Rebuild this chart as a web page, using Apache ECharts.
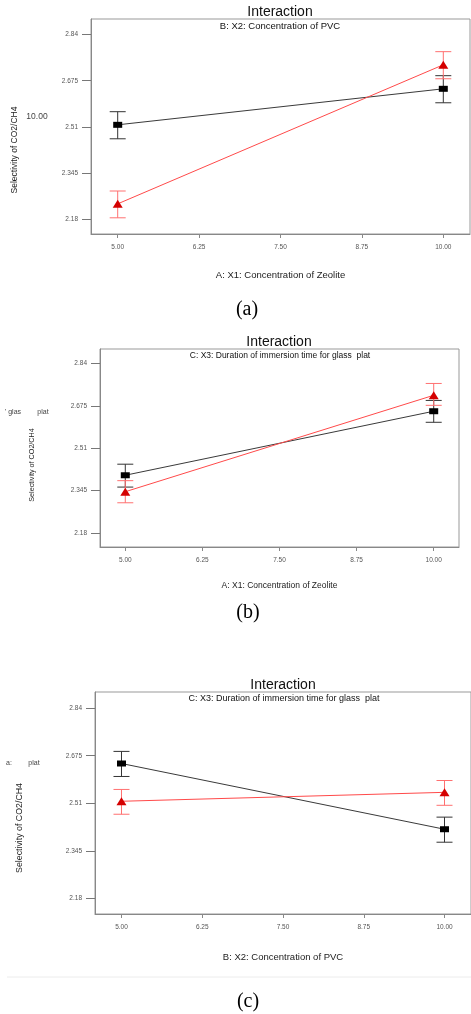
<!DOCTYPE html>
<html>
<head>
<meta charset="utf-8">
<script src="https://cdn.jsdelivr.net/npm/echarts@6/dist/echarts.min.js"></script>
<style>
  html, body { margin: 0; padding: 0; background: #fff; }
  #chart { width: 471px; height: 1014px; }
</style>
</head>
<body>
<div id="chart"></div>
<script>
// factor levels and axis ticks
var xLevels = [5, 10];
var xTicks = [5, 6.25, 7.5, 8.75, 10];
var yTicks = [2.18, 2.345, 2.51, 2.675, 2.84];

// (a) A x B
var aBlackMean = [2.517, 2.646];
var aBlackLow  = [2.467, 2.596];
var aBlackHigh = [2.564, 2.693];
var aRedMean   = [2.234, 2.732];
var aRedLow    = [2.184, 2.682];
var aRedHigh   = [2.280, 2.779];

// (b) A x C
var bBlackMean = [2.405, 2.654];
var bBlackLow  = [2.359, 2.611];
var bBlackHigh = [2.448, 2.696];
var bRedMean   = [2.341, 2.716];
var bRedLow    = [2.298, 2.677];
var bRedHigh   = [2.384, 2.762];

// (c) B x C
var cBlackMean = [2.648, 2.420];
var cBlackLow  = [2.603, 2.375];
var cBlackHigh = [2.690, 2.462];
var cRedMean   = [2.517, 2.548];
var cRedLow    = [2.472, 2.503];
var cRedHigh   = [2.558, 2.589];

var xNames = ['A: X1: Concentration of Zeolite', 'A: X1: Concentration of Zeolite', 'B: X2: Concentration of PVC'];
var subTitles = ['B: X2: Concentration of PVC', 'C: X3: Duration of immersion time for glass  plat', 'C: X3: Duration of immersion time for glass  plat'];

var FONT = 'Liberation Sans, Arial, sans-serif';

var grids = [
  { left: 91, top: 19, width: 379, height: 215 },
  { left: 100, top: 349, width: 359, height: 198 },
  { left: 95, top: 692, width: 376, height: 222 }
];
var nameGaps = [36, 34, 38];
var nameSizes = [9.5, 8.5, 9.5];

function pairs(mean) {
  return xLevels.map(function (x, i) { return [x, mean[i]]; });
}
function bars(low, high) {
  return xLevels.map(function (x, i) { return [x, low[i], high[i]]; });
}
function errorSeries(idx, low, high, color) {
  return {
    type: 'custom',
    xAxisIndex: idx,
    yAxisIndex: idx,
    silent: true,
    z: 2,
    data: bars(low, high),
    encode: { x: 0, y: [1, 2] },
    renderItem: function (params, api) {
      var top = api.coord([api.value(0), api.value(2)]);
      var bot = api.coord([api.value(0), api.value(1)]);
      var w = 8;
      var st = { stroke: color, lineWidth: 1 };
      return {
        type: 'group',
        children: [
          { type: 'line', shape: { x1: top[0], y1: top[1], x2: bot[0], y2: bot[1] }, style: st },
          { type: 'line', shape: { x1: top[0] - w, y1: top[1], x2: top[0] + w, y2: top[1] }, style: st },
          { type: 'line', shape: { x1: bot[0] - w, y1: bot[1], x2: bot[0] + w, y2: bot[1] }, style: st }
        ]
      };
    }
  };
}
function lineSeries(idx, mean, red) {
  return {
    type: 'line',
    xAxisIndex: idx,
    yAxisIndex: idx,
    data: pairs(mean),
    symbol: red ? 'triangle' : 'rect',
    symbolSize: red ? [10, 8] : [9, 6],
    z: 3,
    lineStyle: { color: red ? '#ff4a4a' : '#3a3a3a', width: 1 },
    itemStyle: { color: red ? '#d40000' : '#000' },
    animation: false
  };
}

var panels = [
  [aBlackMean, aBlackLow, aBlackHigh, aRedMean, aRedLow, aRedHigh],
  [bBlackMean, bBlackLow, bBlackHigh, bRedMean, bRedLow, bRedHigh],
  [cBlackMean, cBlackLow, cBlackHigh, cRedMean, cRedLow, cRedHigh]
];

var series = [];
panels.forEach(function (p, i) {
  series.push(errorSeries(i, p[1], p[2], '#333'));
  series.push(errorSeries(i, p[4], p[5], '#ff7070'));
  series.push(lineSeries(i, p[0], false));
  series.push(lineSeries(i, p[3], true));
});

var xAxes = grids.map(function (g, i) {
  return {
    type: 'value',
    gridIndex: i,
    min: 4.59,
    max: 10.41,
    name: xNames[i],
    nameLocation: 'middle',
    nameGap: nameGaps[i],
    nameTextStyle: { fontFamily: FONT, fontSize: nameSizes[i], color: '#222' },
    axisLine: { lineStyle: { color: '#888' } },
    axisTick: { length: 4, lineStyle: { color: '#888' }, customValues: xTicks },
    axisLabel: {
      fontFamily: FONT, fontSize: 6.5, color: '#555', margin: 10,
      customValues: xTicks,
      formatter: function (v) { return v.toFixed(2); }
    },
    splitLine: { show: false }
  };
});
var yAxes = grids.map(function (g, i) {
  return {
    type: 'value',
    gridIndex: i,
    min: 2.126,
    max: 2.896,
    axisLine: { show: true, lineStyle: { color: '#888' } },
    axisTick: { length: 9, lineStyle: { color: '#777' }, customValues: yTicks },
    axisLabel: {
      fontFamily: FONT, fontSize: 6.5, color: '#555', margin: 13,
      customValues: yTicks,
      formatter: function (v) { return String(v); }
    },
    splitLine: { show: false }
  };
});

var titles = [
  { text: 'Interaction', left: 280, top: 5, size: 14 },
  { text: subTitles[0], left: 280, top: 21.5, size: 9.5 },
  { text: 'Interaction', left: 279, top: 335, size: 14 },
  { text: subTitles[1], left: 280, top: 351, size: 8.5 },
  { text: 'Interaction', left: 283, top: 678, size: 14 },
  { text: subTitles[2], left: 284, top: 694.5, size: 9 }
].map(function (t) {
  return {
    text: t.text, left: t.left, top: t.top, textAlign: 'center', padding: 0,
    textStyle: { fontFamily: FONT, fontSize: t.size, fontWeight: 'normal', color: '#111' }
  };
});

function label(text, x, y, size, rot, extra) {
  var st = { text: text, fill: '#222', font: size + 'px ' + FONT, textAlign: 'center', textVerticalAlign: 'middle' };
  if (extra) for (var k in extra) st[k] = extra[k];
  return { type: 'text', x: x, y: y, rotation: rot || 0, style: st, silent: true };
}

var graphics = [
  label('Selectivity of CO2/CH4', 15, 150, 8.5, Math.PI / 2),
  label('Selectivity of CO2/CH4', 32, 465, 7.2, Math.PI / 2),
  label('Selectivity of CO2/CH4', 20, 828, 8.8, Math.PI / 2),
  label('10.00', 37, 117, 8.5, 0, { fill: '#444' }),
  label("' glas", 13, 412, 7, 0, { fill: '#444' }),
  label('plat', 43, 412, 7, 0, { fill: '#444' }),
  label('a:', 9, 763, 7, 0, { fill: '#444' }),
  label('plat', 34, 763, 7, 0, { fill: '#444' }),
  label('(a)', 247, 310, 20, 0, { fill: '#000', font: '20px "Liberation Serif", "Times New Roman", serif' }),
  label('(b)', 248, 613, 20, 0, { fill: '#000', font: '20px "Liberation Serif", "Times New Roman", serif' }),
  label('(c)', 248, 1002, 20, 0, { fill: '#000', font: '20px "Liberation Serif", "Times New Roman", serif' }),
  { type: 'line', shape: { x1: 7, y1: 977, x2: 471, y2: 977 }, style: { stroke: '#ececec', lineWidth: 1 }, silent: true }
];

var chart = echarts.init(document.getElementById('chart'), null, { renderer: 'canvas' });
chart.setOption({
  backgroundColor: '#fff',
  animation: false,
  title: titles,
  grid: grids.map(function (g) {
    return { left: g.left, top: g.top, width: g.width, height: g.height, show: true, borderColor: '#999', borderWidth: 1, containLabel: false };
  }),
  xAxis: xAxes,
  yAxis: yAxes,
  graphic: graphics,
  series: series
});
</script>
</body>
</html>
